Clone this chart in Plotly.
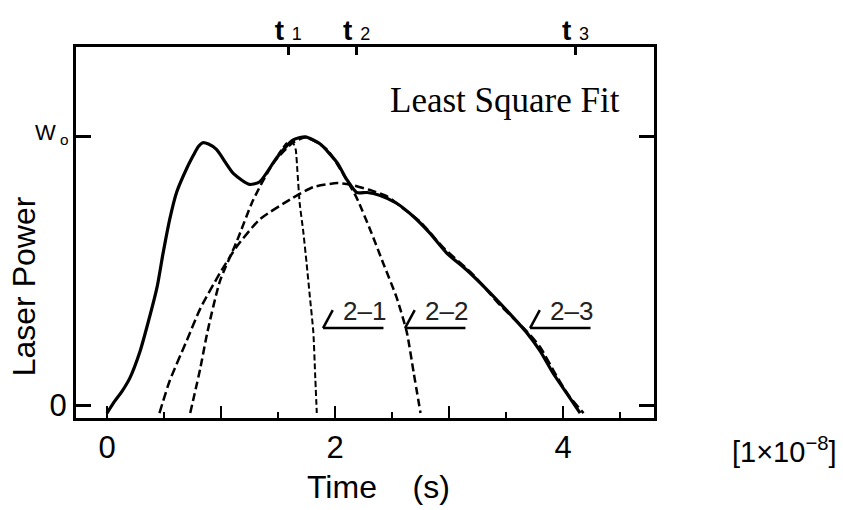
import plotly.graph_objects as go

# Measured laser pulse (time in units of 1e-8 s, power normalised to W_o)
time_measured = [0.00, 0.06, 0.13, 0.20, 0.29, 0.35, 0.44, 0.49, 0.55, 0.61, 0.70,
                 0.76, 0.80, 0.84, 0.89, 0.96, 1.11, 1.25, 1.34, 1.49, 1.63, 1.74,
                 1.87, 2.02, 2.10, 2.19, 2.28, 2.39, 2.54, 2.69, 2.83, 2.98, 3.16,
                 3.33, 3.51, 3.68, 3.80, 3.91, 4.03, 4.15]
power_measured = [-0.03, 0.01, 0.05, 0.10, 0.20, 0.29, 0.44, 0.56, 0.69, 0.79, 0.88,
                  0.93, 0.96, 0.975, 0.97, 0.95, 0.86, 0.82, 0.83, 0.92, 0.985, 0.997,
                  0.97, 0.90, 0.84, 0.79, 0.79, 0.78, 0.75, 0.70, 0.64, 0.565, 0.50,
                  0.43, 0.35, 0.27, 0.20, 0.12, 0.045, -0.03]

# Least-square fitted pulses 2-1, 2-2, 2-3
time_fit1 = [1.50, 1.58, 1.63, 1.655, 1.67, 1.69, 1.72, 1.75, 1.78, 1.81, 1.825, 1.84]
power_fit1 = [0.93, 0.975, 0.975, 0.95, 0.87, 0.75, 0.65, 0.53, 0.40, 0.27, 0.12, -0.03]

time_fit2 = [0.73, 0.82, 0.88, 0.99, 1.14, 1.28, 1.46, 1.63, 1.75, 1.93, 2.07, 2.19,
             2.31, 2.42, 2.54, 2.63, 2.69, 2.75]
power_fit2 = [-0.03, 0.14, 0.27, 0.46, 0.61, 0.76, 0.90, 0.975, 0.995, 0.95, 0.86, 0.77,
              0.65, 0.53, 0.40, 0.27, 0.12, -0.03]

time_fit3 = [0.46, 0.55, 0.70, 0.82, 0.99, 1.14, 1.34, 1.63, 1.81, 2.02, 2.13, 2.30,
             2.46, 2.60, 2.75, 2.95, 3.21, 3.45, 3.68, 3.80, 3.94, 4.05, 4.18]
power_fit3 = [-0.03, 0.09, 0.24, 0.36, 0.49, 0.59, 0.69, 0.77, 0.81, 0.825, 0.82, 0.80,
              0.775, 0.73, 0.68, 0.585, 0.485, 0.37, 0.275, 0.215, 0.11, 0.035, -0.03]

# Axis ticks
x_label_vals = [0, 2, 4]
x_label_text = ["0", "2", "4"]
x_plain_vals = [1, 3]
x_minor_vals = [0.5, 1.5, 2.5, 3.5, 4.5]
mark_times = [1.59, 2.19, 4.11]
mark_index = ["1", "2", "3"]
y_label_vals = [0]
y_label_text = ["0"]
y_ref_vals = [1]
fit_names = ["2\u20131", "2\u20132", "2\u20133"]

X_RANGE = [-0.272, 4.798]
Y_RANGE = [-0.0483, 1.3309]
SANS = "Liberation Sans, Arial, sans-serif"
SERIF = "Liberation Serif, Times New Roman, serif"

fig = go.Figure()

fig.add_trace(go.Scatter(x=time_fit3, y=power_fit3, mode="lines",
                         line=dict(color="black", width=2.5, dash="9px,4px",
                                   shape="spline", smoothing=0.6)))
fig.add_trace(go.Scatter(x=time_fit2, y=power_fit2, mode="lines",
                         line=dict(color="black", width=2.5, dash="8px,4px",
                                   shape="spline", smoothing=0.6)))
fig.add_trace(go.Scatter(x=time_fit1, y=power_fit1, mode="lines",
                         line=dict(color="black", width=2, dash="6px,3px",
                                   shape="spline", smoothing=0.5)))
fig.add_trace(go.Scatter(x=time_measured, y=power_measured, mode="lines",
                         line=dict(color="black", width=3.2, shape="spline", smoothing=0.6)))
# carriers for the top time-mark axis and the unlabelled integer ticks
fig.add_trace(go.Scatter(x=[], y=[], xaxis="x2", yaxis="y", mode="lines"))
fig.add_trace(go.Scatter(x=[], y=[], xaxis="x3", yaxis="y", mode="lines"))

fig.update_layout(
    width=843, height=510,
    margin=dict(l=76, r=189, t=47, b=92),
    paper_bgcolor="white", plot_bgcolor="white",
    showlegend=False,
    font=dict(family=SANS, color="black"),
    xaxis=dict(range=X_RANGE, showgrid=False, zeroline=False,
               showline=True, linewidth=3, linecolor="black", mirror=True,
               tickmode="array", tickvals=x_label_vals, ticktext=x_label_text,
               ticks="inside", ticklen=12, tickwidth=2, tickcolor="black",
               minor=dict(tickmode="array", tickvals=x_minor_vals, ticks="inside",
                          ticklen=6, tickwidth=2, tickcolor="black"),
               tickfont=dict(family=SANS, size=31, color="black")),
    xaxis3=dict(range=X_RANGE, overlaying="x", side="bottom", anchor="y",
                showgrid=False, zeroline=False, showline=False,
                tickmode="array", tickvals=x_plain_vals, showticklabels=False,
                ticks="inside", ticklen=12, tickwidth=2, tickcolor="black"),
    xaxis2=dict(range=X_RANGE, overlaying="x", side="top", anchor="y",
                showgrid=False, zeroline=False, showline=False,
                tickmode="array", tickvals=mark_times,
                ticktext=["<b>t</b> <span style='font-size:18px'>%s</span>" % i
                          for i in mark_index],
                ticks="inside", ticklen=8, tickwidth=2.5, tickcolor="black",
                tickfont=dict(family=SANS, size=28, color="black")),
    yaxis=dict(range=Y_RANGE, showgrid=False, zeroline=False,
               showline=True, linewidth=3, linecolor="black", mirror="ticks",
               tickmode="array", tickvals=y_label_vals, ticktext=y_label_text,
               ticks="inside", ticklen=15, tickwidth=3, tickcolor="black",
               minor=dict(tickmode="array", tickvals=y_ref_vals, ticks="inside",
                          ticklen=15, tickwidth=3, tickcolor="black"),
               tickfont=dict(family=SANS, size=31, color="black")),
)

annotations = [
    dict(text="Least Square Fit", x=1, xref="paper", xanchor="right", xshift=-32,
         y=1.0, yref="y", yshift=36, yanchor="middle", showarrow=False,
         font=dict(family=SERIF, size=35, color="black")),
    dict(text="W<sub> o</sub>", x=-0.008, xref="paper", xanchor="right",
         y=1.0, yref="y", yshift=2, yanchor="middle", showarrow=False,
         font=dict(family=SANS, size=22, color="black")),
    dict(text="Laser Power", x=-0.09, xref="paper", xanchor="center",
         y=0.355, yref="paper", yanchor="middle", textangle=-90,
         showarrow=False, font=dict(family=SANS, size=32, color="black")),
    dict(text="Time    (s)", x=0.5225, xref="paper", y=-0.186, yref="paper",
         xanchor="center", yanchor="middle", showarrow=False,
         font=dict(family=SANS, size=32, color="black")),
    dict(text="[1\u00d710<sup>\u22128</sup>]", x=1, xref="paper", xshift=185,
         xanchor="right", y=-0.086, yref="paper", yanchor="middle", showarrow=False,
         font=dict(family=SANS, size=29, color="black")),
]

# Curve labels with their leader marks
label_starts = [1.895, 2.614, 3.711]
for name, x0 in zip(fit_names, label_starts):
    annotations.append(dict(text=name, x=x0 + 0.36, y=0.35, xref="x", yref="y",
                            xanchor="center", yanchor="middle", showarrow=False,
                            font=dict(family=SANS, size=26, color="#222")))
    fig.add_shape(type="line", x0=x0, x1=x0 + 0.53, y0=0.286, y1=0.286,
                  xref="x", yref="y", line=dict(color="black", width=2.5))
    fig.add_shape(type="line", x0=x0, x1=x0 + 0.085, y0=0.286, y1=0.353,
                  xref="x", yref="y", line=dict(color="black", width=2.5))

fig.update_layout(annotations=annotations)
fig.write_html("out.html")
